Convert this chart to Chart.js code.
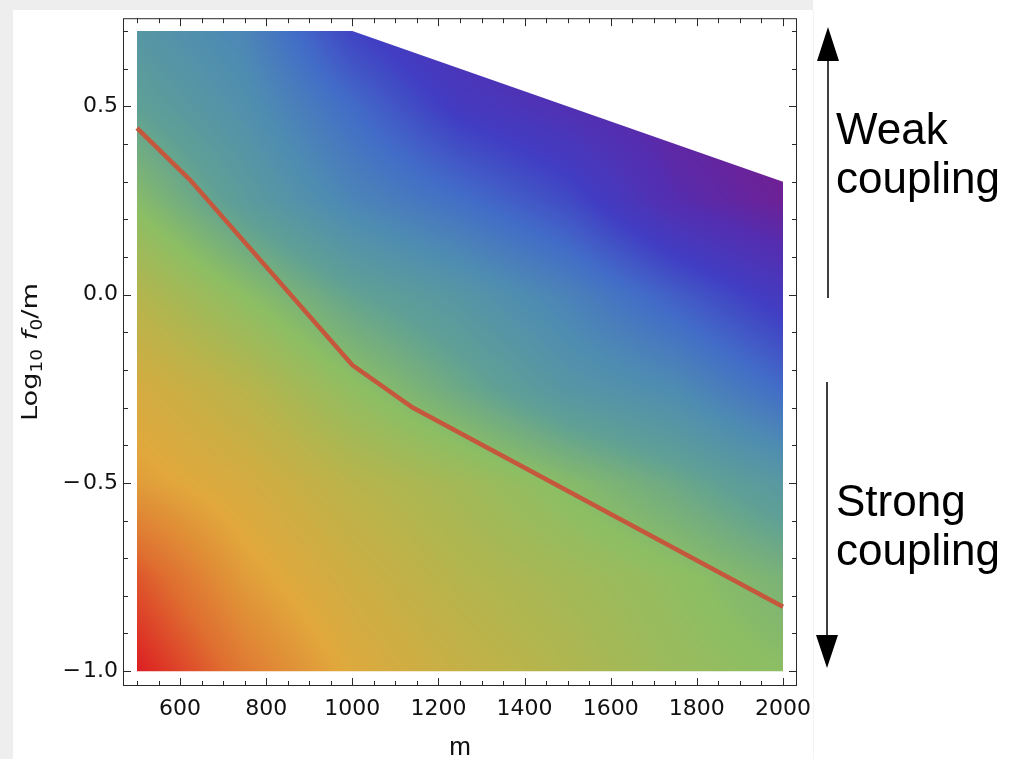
<!DOCTYPE html>
<html>
<head>
<meta charset="utf-8">
<script src="https://cdn.jsdelivr.net/npm/chart.js@4.4.1/dist/chart.umd.min.js"></script>
<style>
  html, body { margin: 0; padding: 0; background: #fff; }
  #wrap { position: relative; width: 1015px; height: 759px; overflow: hidden; }
  #chart { position: absolute; left: 0; top: 0; }
  .note { position: absolute; left: 836px; font: 44px "Liberation Sans", Arial, sans-serif; line-height: 49px; color: #000; white-space: nowrap; }
</style>
</head>
<body>
<div id="wrap">
  <canvas id="chart" width="1015" height="759"></canvas>
  <div class="note" style="top: 104px;">Weak<br>coupling</div>
  <div class="note" style="top: 476px;">Strong<br>coupling</div>
</div>
<script>
// red curve
const curveM = [500, 623, 1000, 1140, 2000];
const curveLog = [0.442, 0.305, -0.187, -0.30, -0.829];

// outline of the shaded region (top edge), bottom is flat
const edgeM = [500, 1000, 2000];
const edgeTop = [0.7, 0.7, 0.3];
const edgeBottom = -1.0;

// colour parameter on a coarse grid (rows follow fieldLog)
const fieldM = [500, 750, 1000, 1250, 1500, 1750, 2000];
const fieldLog = [-1.0, -0.75, -0.5, -0.25, 0.0, 0.25, 0.5, 0.75];
const fieldT = [
  [1.00, 0.88, 0.79, 0.73, 0.68, 0.63, 0.60],
  [0.93, 0.82, 0.75, 0.69, 0.65, 0.61, 0.56],
  [0.82, 0.77, 0.70, 0.65, 0.59, 0.53, 0.46],
  [0.77, 0.70, 0.61, 0.53, 0.45, 0.40, 0.30],
  [0.69, 0.60, 0.51, 0.45, 0.37, 0.27, 0.17],
  [0.59, 0.48, 0.38, 0.31, 0.23, 0.10, 0.03],
  [0.50, 0.42, 0.30, 0.18, 0.12, 0.05, 0.00],
  [0.44, 0.37, 0.19, 0.10, 0.04, 0.00, 0.00],
];

// rainbow-ish colour scale
const colorT = [0, 0.1, 0.2, 0.3, 0.4, 0.5, 0.6, 0.7, 0.8, 0.9, 1.0];
const colorR = [120, 85, 65, 66, 78, 95, 140, 185, 225, 223, 220];
const colorG = [28, 45, 62, 108, 140, 160, 190, 180, 168, 110, 30];
const colorB = [140, 175, 195, 200, 178, 150, 100, 75, 60, 48, 35];

// ticks
const xTicks = [600, 800, 1000, 1200, 1400, 1600, 1800, 2000];
const yTicks = [-1.0, -0.5, 0.0, 0.5];
const xMinorStep = 50;
const yMinorStep = 0.1;

function findCell(arr, v) {
  let i = 0;
  while (i < arr.length - 2 && v > arr[i + 1]) i++;
  let f = (v - arr[i]) / (arr[i + 1] - arr[i]);
  return [i, Math.max(0, Math.min(1, f))];
}

function sampleField(m, lg) {
  const [i, fx] = findCell(fieldM, m);
  const [j, fy] = findCell(fieldLog, lg);
  const a = fieldT[j][i], b = fieldT[j][i + 1];
  const c = fieldT[j + 1][i], d = fieldT[j + 1][i + 1];
  return (a * (1 - fx) + b * fx) * (1 - fy) + (c * (1 - fx) + d * fx) * fy;
}

function colorAt(t) {
  const [k, f] = findCell(colorT, t);
  return [
    colorR[k] + (colorR[k + 1] - colorR[k]) * f,
    colorG[k] + (colorG[k + 1] - colorG[k]) * f,
    colorB[k] + (colorB[k + 1] - colorB[k]) * f,
  ];
}

const pageFrame = {
  id: 'pageFrame',
  beforeDraw(chart) {
    const { ctx } = chart;
    ctx.save();
    ctx.fillStyle = '#fff';
    ctx.fillRect(0, 0, 1015, 759);
    ctx.fillStyle = '#eeeeee';
    ctx.fillRect(0, 0, 813, 10);
    ctx.fillRect(0, 0, 13, 759);
    ctx.fillStyle = '#f3f3f3';
    ctx.fillRect(813, 10, 1, 749);
    ctx.restore();
  }
};

const densityField = {
  id: 'densityField',
  beforeDatasetsDraw(chart) {
    const { ctx, chartArea: a, scales: { x, y } } = chart;
    const w = Math.round(a.right - a.left), h = Math.round(a.bottom - a.top);
    const off = document.createElement('canvas');
    off.width = w; off.height = h;
    const octx = off.getContext('2d');
    const img = octx.createImageData(w, h);
    for (let j = 0; j < h; j++) {
      const lg = y.getValueForPixel(a.top + j + 0.5);
      for (let i = 0; i < w; i++) {
        const m = x.getValueForPixel(a.left + i + 0.5);
        const c = colorAt(sampleField(m, lg));
        const k = (j * w + i) * 4;
        img.data[k] = c[0]; img.data[k + 1] = c[1]; img.data[k + 2] = c[2]; img.data[k + 3] = 255;
      }
    }
    octx.putImageData(img, 0, 0);

    ctx.save();
    ctx.beginPath();
    ctx.moveTo(x.getPixelForValue(edgeM[0]), y.getPixelForValue(edgeBottom));
    edgeM.forEach((m, i) => ctx.lineTo(x.getPixelForValue(m), y.getPixelForValue(edgeTop[i])));
    ctx.lineTo(x.getPixelForValue(edgeM[edgeM.length - 1]), y.getPixelForValue(edgeBottom));
    ctx.closePath();
    ctx.clip();
    ctx.drawImage(off, a.left, a.top);
    ctx.restore();
  }
};

const frameTicks = {
  id: 'frameTicks',
  afterDraw(chart) {
    const { ctx, chartArea: a, scales: { x, y } } = chart;
    ctx.save();
    ctx.strokeStyle = '#2a2a2a';
    ctx.lineWidth = 1;
    ctx.strokeRect(a.left + 0.5, a.top + 0.5, a.right - a.left - 1, a.bottom - a.top - 1);

    ctx.beginPath();
    for (let v = 500; v <= 2000; v += xMinorStep) {
      const len = xTicks.includes(v) ? 8 : 5;
      const px = Math.round(x.getPixelForValue(v)) + 0.5;
      ctx.moveTo(px, a.bottom); ctx.lineTo(px, a.bottom - len);
      ctx.moveTo(px, a.top); ctx.lineTo(px, a.top + len);
    }
    for (let k = -10; k <= 7; k++) {
      const v = k * yMinorStep;
      const len = k % 5 === 0 ? 8 : 5;
      const py = Math.round(y.getPixelForValue(v)) + 0.5;
      ctx.moveTo(a.left, py); ctx.lineTo(a.left + len, py);
      ctx.moveTo(a.right, py); ctx.lineTo(a.right - len, py);
    }
    ctx.stroke();

    // axis titles
    ctx.fillStyle = '#111';
    ctx.font = '26px "Liberation Sans", Arial, sans-serif';
    ctx.textAlign = 'center';
    ctx.textBaseline = 'alphabetic';
    ctx.fillText('m', (a.left + a.right) / 2, 755);

    const fam = '"DejaVu Sans", sans-serif';
    const parts = [
      { text: 'Log', font: '22px ' + fam, dy: 0 },
      { text: '10', font: '15px ' + fam, dy: 5 },
      { text: ' ', font: '22px ' + fam, dy: 0 },
      { text: 'f', font: 'italic 22px ' + fam, dy: 0 },
      { text: '0', font: '15px ' + fam, dy: 5 },
      { text: '/m', font: '22px ' + fam, dy: 0 },
    ];
    let total = 0;
    parts.forEach(p => { ctx.font = p.font; p.w = ctx.measureText(p.text).width; total += p.w; });
    const stretch = 138 / total;
    ctx.translate(37, (a.top + a.bottom) / 2);
    ctx.rotate(-Math.PI / 2);
    ctx.scale(stretch, 1);
    ctx.textAlign = 'left';
    let cx = -total / 2;
    parts.forEach(p => { ctx.font = p.font; ctx.fillText(p.text, cx, p.dy); cx += p.w; });
    ctx.restore();

    // arrows beside the plot
    ctx.save();
    ctx.strokeStyle = '#000';
    ctx.fillStyle = '#000';
    ctx.lineWidth = 1.5;
    ctx.beginPath();
    ctx.moveTo(828, 298); ctx.lineTo(828, 58);
    ctx.moveTo(827, 382); ctx.lineTo(827, 638);
    ctx.stroke();
    ctx.beginPath();
    ctx.moveTo(828, 27); ctx.lineTo(839, 61); ctx.lineTo(817, 61); ctx.closePath();
    ctx.moveTo(827, 668); ctx.lineTo(838, 635); ctx.lineTo(816, 635); ctx.closePath();
    ctx.fill();
    ctx.restore();
  }
};

const tickFont = { family: '"DejaVu Sans", sans-serif', size: 22 };

new Chart(document.getElementById('chart').getContext('2d'), {
  type: 'scatter',
  data: {
    datasets: [{
      label: 'curve',
      data: curveM.map((m, i) => ({ x: m, y: curveLog[i] })),
      showLine: true,
      borderColor: '#c5573d',
      borderWidth: 4.5,
      pointRadius: 0,
      tension: 0,
    }],
  },
  options: {
    responsive: false,
    animation: false,
    layout: { padding: { left: 0, top: 12, right: 218, bottom: 0 } },
    plugins: { legend: { display: false }, tooltip: { enabled: false } },
    scales: {
      x: {
        type: 'linear',
        min: 467.5,
        max: 2032.5,
        grid: { display: false, drawTicks: false },
        border: { display: false },
        afterBuildTicks: (s) => { s.ticks = xTicks.map(v => ({ value: v })); },
        afterFit: (s) => { s.height = 73; },
        ticks: { color: '#111', font: tickFont, padding: 10, maxRotation: 0, autoSkip: false, callback: (v) => String(v) },
      },
      y: {
        type: 'linear',
        min: -1.0395,
        max: 0.7342,
        grid: { display: false, drawTicks: false },
        border: { display: false },
        afterBuildTicks: (s) => { s.ticks = yTicks.map(v => ({ value: v })); },
        afterFit: (s) => { s.width = 123; },
        ticks: {
          color: '#111', font: tickFont, padding: 5, autoSkip: false,
          callback: (v) => (v < 0 ? '\u2212\u200A' : '') + Math.abs(v).toFixed(1),
        },
      },
    },
  },
  plugins: [pageFrame, densityField, frameTicks],
});
</script>
</body>
</html>
